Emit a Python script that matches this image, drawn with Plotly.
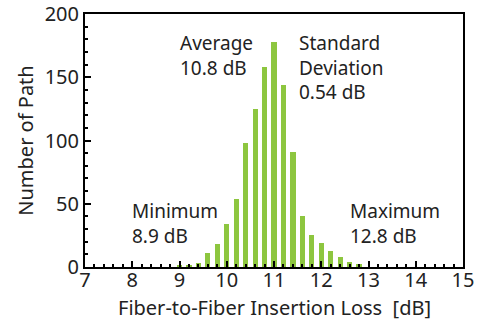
import plotly.graph_objects as go

loss_db = [9.0, 9.2, 9.4, 9.6, 9.8, 10.0, 10.2, 10.4, 10.6, 10.8, 11.0,
           11.2, 11.4, 11.6, 11.8, 12.0, 12.2, 12.4, 12.6, 12.8]
num_path = [1, 1, 3, 11, 18, 34, 54, 98, 125, 158, 178,
            144, 91, 40, 25, 19, 13, 8, 4, 2]

notes = [
    (8.97, 189, "Average<br>10.8 dB"),
    (11.48, 189, "Standard<br>Deviation<br>0.54 dB"),
    (7.95, 56, "Minimum<br>8.9 dB"),
    (12.57, 56, "Maximum<br>12.8 dB"),
]

x_title = "Fiber-to-Fiber Insertion Loss  [dB]"
y_title = "Number of Path"

FONT = "Noto Sans"

fig = go.Figure(go.Bar(x=loss_db, y=num_path, width=0.11,
                       marker=dict(color="#8DC63F", line=dict(width=0))))

for x, y, t in notes:
    fig.add_annotation(x=x, y=y, xref="x", yref="y", text=t, showarrow=False,
                       xanchor="left", yanchor="top", align="left",
                       font=dict(family=FONT, size=19, color="#222"))

fig.add_annotation(x=0.5, y=-0.16, xref="paper", yref="paper", text=x_title,
                   showarrow=False, xanchor="center", yanchor="middle",
                   font=dict(family=FONT, size=20, color="#222"))

axis_common = dict(showline=True, linecolor="black", linewidth=2, mirror=True,
                   ticks="inside", tickcolor="black", tickwidth=2, ticklen=6,
                   showgrid=False, zeroline=False, automargin=False,
                   tickfont=dict(family=FONT, size=20, color="#222"))

fig.update_xaxes(range=[7, 15], dtick=1, tick0=7, ticklabelstandoff=-6,
                 minor=dict(dtick=0.2, ticks="inside", ticklen=3, tickwidth=2, tickcolor="black"),
                 **axis_common)
fig.update_yaxes(range=[0, 200], dtick=50, tick0=0,
                 minor=dict(dtick=10, ticks="inside", ticklen=3, tickwidth=2, tickcolor="black"),
                 title=dict(text=y_title, standoff=6,
                            font=dict(family=FONT, size=20, color="#222")),
                 **axis_common)

fig.update_layout(width=487, height=324, margin=dict(l=85, r=24, t=14, b=57),
                  plot_bgcolor="white", paper_bgcolor="white", showlegend=False,
                  bargap=0)

fig.write_html("out.html")
